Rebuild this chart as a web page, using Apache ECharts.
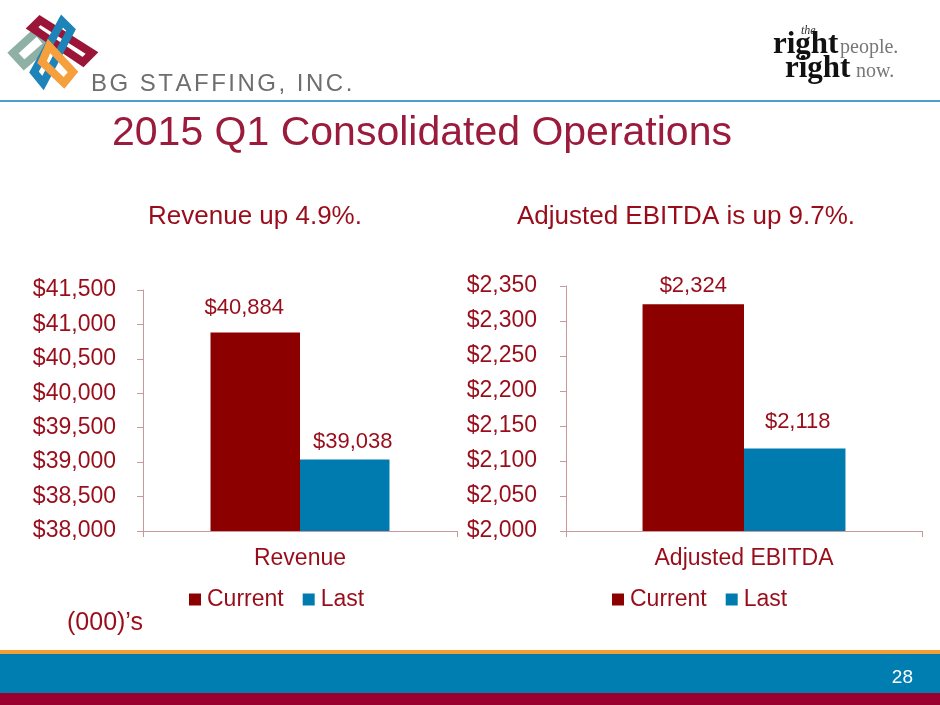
<!DOCTYPE html>
<html>
<head>
<meta charset="utf-8">
<title>2015 Q1 Consolidated Operations</title>
<script src="https://cdn.jsdelivr.net/npm/echarts@6/dist/echarts.min.js"></script>
<style>
  html, body { margin: 0; padding: 0; background: #ffffff; }
  #main { width: 940px; height: 705px; }
</style>
</head>
<body>
<div id="main"></div>
<script>
// data
var seriesNames = ['Current', 'Last'];
var revenueCategory = ['Revenue'];
var revenueCurrent = [40884];
var revenueLast = [39038];
var revenueMin = 38000, revenueMax = 41500, revenueStep = 500;

var ebitdaCategory = ['Adjusted EBITDA'];
var ebitdaCurrent = [2324];
var ebitdaLast = [2118];
var ebitdaMin = 2000, ebitdaMax = 2350, ebitdaStep = 50;

var FONT = '"Liberation Sans", Arial, sans-serif';
var SERIF = '"Liberation Serif", "Times New Roman", serif';
var RED_TEXT = '#990d1a';
var CURRENT_COLOR = '#8c0000';
var LAST_COLOR = '#007bb0';
var AXIS_COLOR = '#c8999c';

function money(v) {
  return '$' + Number(v).toLocaleString('en-US');
}

// spaced letters for the company name (no letterSpacing in zrender)
function spacedText(str, x, y, size, spacing, color) {
  var cv = document.createElement('canvas').getContext('2d');
  cv.font = size + 'px ' + FONT;
  var out = [];
  for (var i = 0; i < str.length; i++) {
    out.push({
      type: 'text', x: x, y: y,
      style: { text: str[i], font: size + 'px ' + FONT, fill: color, textVerticalAlign: 'middle' }
    });
    x += cv.measureText(str[i]).width + spacing;
  }
  return out;
}

function ring(points, color) {
  return {
    type: 'polygon',
    shape: { points: points },
    style: { fill: null, stroke: color, lineWidth: 8, lineJoin: 'miter' }
  };
}

var graphics = [
  // knot logo
  ring([[13, 53], [37, 31], [48, 44], [24, 65]], '#8fb0a5'),
  ring([[40, 20], [32, 28], [83, 62], [92, 53]], '#9a1538'),
  ring([[62, 21], [71, 30], [43, 83], [34, 72]], '#1d83b8'),
  ring([[49, 46], [73, 72], [64, 83], [42, 62]], '#f5a03c'),
  // header rule
  { type: 'rect', shape: { x: 0, y: 100, width: 940, height: 2 }, style: { fill: '#4aa0cc' } },
  // right logo
  { type: 'text', x: 801, y: 31, style: { text: 'the', font: 'italic 12px ' + SERIF, fill: '#333', textVerticalAlign: 'middle' } },
  { type: 'text', x: 773, y: 60, style: { text: 'right', font: 'bold 31px ' + SERIF, fill: '#111', textVerticalAlign: 'bottom' } },
  { type: 'text', x: 840, y: 58, style: { text: 'people.', font: '20px ' + SERIF, fill: '#777', textVerticalAlign: 'bottom' } },
  { type: 'text', x: 785, y: 84, style: { text: 'right', font: 'bold 31px ' + SERIF, fill: '#111', textVerticalAlign: 'bottom' } },
  { type: 'text', x: 856, y: 82, style: { text: 'now.', font: '20px ' + SERIF, fill: '#777', textVerticalAlign: 'bottom' } },
  // titles
  { type: 'text', x: 112, y: 134, style: { text: '2015 Q1 Consolidated Operations', font: '41px ' + FONT, fill: '#9b1b3d', textVerticalAlign: 'middle' } },
  { type: 'text', x: 255, y: 217, style: { text: 'Revenue up 4.9%.', font: '26px ' + FONT, fill: RED_TEXT, textAlign: 'center', textVerticalAlign: 'middle' } },
  { type: 'text', x: 686, y: 217, style: { text: 'Adjusted EBITDA is up 9.7%.', font: '26px ' + FONT, fill: RED_TEXT, textAlign: 'center', textVerticalAlign: 'middle' } },
  { type: 'text', x: 67, y: 623, style: { text: '(000)\u2019s', font: '25px ' + FONT, fill: RED_TEXT, textVerticalAlign: 'middle' } },
  // footer bands
  { type: 'rect', shape: { x: 0, y: 650, width: 940, height: 4 }, style: { fill: '#f59d36' } },
  { type: 'rect', shape: { x: 0, y: 654, width: 940, height: 39 }, style: { fill: '#007db1' } },
  { type: 'rect', shape: { x: 0, y: 693, width: 940, height: 12 }, style: { fill: '#990030' } },
  { type: 'text', x: 913, y: 678, style: { text: '28', font: '19px ' + FONT, fill: '#ffffff', textAlign: 'right', textVerticalAlign: 'middle' } }
].concat(spacedText('BG STAFFING, INC.', 91, 84, 24, 2.5, '#6e6e6e'));

function valueAxis(idx, min, max, step, margin) {
  return {
    type: 'value', gridIndex: idx, min: min, max: max, interval: step,
    axisLine: { show: true, lineStyle: { color: AXIS_COLOR, width: 1 } },
    axisTick: { show: true, length: 6, lineStyle: { color: AXIS_COLOR } },
    splitLine: { show: false },
    axisLabel: { color: RED_TEXT, fontSize: 23, fontFamily: FONT, margin: margin, formatter: money }
  };
}

function categoryAxis(idx, cats) {
  return {
    type: 'category', gridIndex: idx, data: cats,
    axisLine: { lineStyle: { color: AXIS_COLOR, width: 1 } },
    axisTick: { show: true, length: 6, alignWithLabel: false, lineStyle: { color: AXIS_COLOR } },
    axisLabel: { color: RED_TEXT, fontSize: 23, fontFamily: FONT, margin: 16 }
  };
}

function barSeries(name, idx, values, color, dist, dx) {
  return {
    name: name, type: 'bar', xAxisIndex: idx, yAxisIndex: idx,
    data: values,
    barGap: '0%', barCategoryGap: '43%',
    itemStyle: { color: color },
    label: {
      show: true, position: 'top', distance: dist, offset: [dx, 0],
      color: RED_TEXT, fontSize: 22, fontFamily: FONT, formatter: function (p) { return money(p.value); }
    }
  };
}

function legendAt(left) {
  return {
    left: left, top: 583, itemWidth: 12, itemHeight: 12, itemGap: 19,
    icon: 'rect', data: seriesNames,
    textStyle: { color: RED_TEXT, fontSize: 23, fontFamily: FONT, padding: [0, 0, 0, 1] }
  };
}

var chart = echarts.init(document.getElementById('main'), null, { renderer: 'canvas' });
var option = {
  backgroundColor: '#ffffff',
  animation: false,
  color: [CURRENT_COLOR, LAST_COLOR],
  graphic: graphics,
  legend: [legendAt(184), legendAt(607)],
  grid: [
    { left: 143, top: 290, width: 314, height: 241 },
    { left: 566, top: 286, width: 356, height: 245 }
  ],
  xAxis: [categoryAxis(0, revenueCategory), categoryAxis(1, ebitdaCategory)],
  yAxis: [
    valueAxis(0, revenueMin, revenueMax, revenueStep, 27),
    valueAxis(1, ebitdaMin, ebitdaMax, ebitdaStep, 29)
  ],
  series: [
    barSeries(seriesNames[0], 0, revenueCurrent, CURRENT_COLOR, 13, -11),
    barSeries(seriesNames[1], 0, revenueLast, LAST_COLOR, 7, 8),
    barSeries(seriesNames[0], 1, ebitdaCurrent, CURRENT_COLOR, 7, 0),
    barSeries(seriesNames[1], 1, ebitdaLast, LAST_COLOR, 15, 3)
  ]
};
chart.setOption(option);
</script>
</body>
</html>
